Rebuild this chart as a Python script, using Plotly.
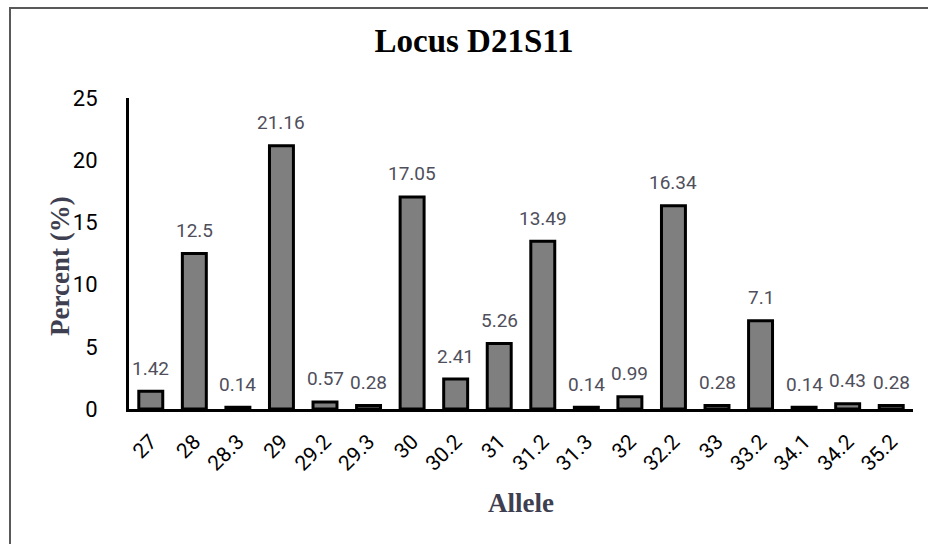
import plotly.graph_objects as go

# Allele frequencies at the D21S11 locus
alleles = ["27", "28", "28.3", "29", "29.2", "29.3", "30", "30.2", "31", "31.2",
           "31.3", "32", "32.2", "33", "33.2", "34.1", "34.2", "35.2"]
percent = [1.42, 12.5, 0.14, 21.16, 0.57, 0.28, 17.05, 2.41, 5.26, 13.49,
           0.14, 0.99, 16.34, 0.28, 7.1, 0.14, 0.43, 0.28]
y_ticks = [0, 5, 10, 15, 20, 25]

W, H = 928, 544
L, R, T, B = 129, 15, 98, 135
pw, ph = W - L - R, H - T - B

positions = list(range(len(alleles)))

fig = go.Figure()
fig.add_trace(go.Bar(
    x=positions, y=percent,
    marker=dict(color="#7f7f7f", line=dict(color="black", width=3)),
    width=0.55,
    hovertext=alleles, hoverinfo="text+y",
))

# value labels above each bar
for i, v in zip(positions, percent):
    fig.add_annotation(x=i, y=v, text=f"{v:g}", showarrow=False,
                       xanchor="center", yanchor="middle", yshift=23,
                       font=dict(family="Roboto", size=19, color="#4f4f5c"))

# axis titles
fig.add_annotation(text="<b>Allele</b>", xref="paper", yref="paper",
                   x=(521 - L) / pw, y=(H - B - 503) / ph, showarrow=False,
                   xanchor="center", yanchor="middle",
                   font=dict(family="Liberation Serif", size=27, color="#3f3f52"))
fig.add_annotation(text="<b>Percent (%)</b>", xref="paper", yref="paper",
                   x=(60 - L) / pw, y=(H - B - 266) / ph, showarrow=False,
                   xanchor="center", yanchor="middle", textangle=-90,
                   font=dict(family="Liberation Serif", size=27, color="#3f3f52"))

# outer frame around the chart
fig.add_shape(type="rect", xref="paper", yref="paper",
              x0=(10 - L) / pw, x1=(960 - L) / pw,
              y0=(H - B - 580) / ph, y1=(H - B - 8) / ph,
              line=dict(color="#595959", width=2), fillcolor="rgba(0,0,0,0)",
              layer="below")

fig.update_layout(
    width=W, height=H,
    margin=dict(l=L, r=R, t=T, b=B),
    paper_bgcolor="white", plot_bgcolor="white",
    showlegend=False,
    title=dict(text="<b>Locus D21S11</b>", x=474 / W, xanchor="center",
               y=1 - 40 / H, yanchor="middle",
               font=dict(family="Liberation Serif", size=33, color="black")),
    xaxis=dict(
        range=[-0.5, len(alleles) - 0.5], tickvals=positions, ticktext=alleles,
        showgrid=False, zeroline=False,
        showline=True, linecolor="black", linewidth=3,
        ticks="", tickangle=-45, ticklabelstandoff=9,
        tickfont=dict(family="Roboto", size=21, color="black"),
    ),
    yaxis=dict(
        range=[0, 25], tickvals=y_ticks, showgrid=False, zeroline=False,
        showline=True, linecolor="black", linewidth=3,
        ticks="", ticklabelstandoff=24,
        tickfont=dict(family="Roboto", size=22, color="black"),
    ),
)

fig.write_html("out.html")
